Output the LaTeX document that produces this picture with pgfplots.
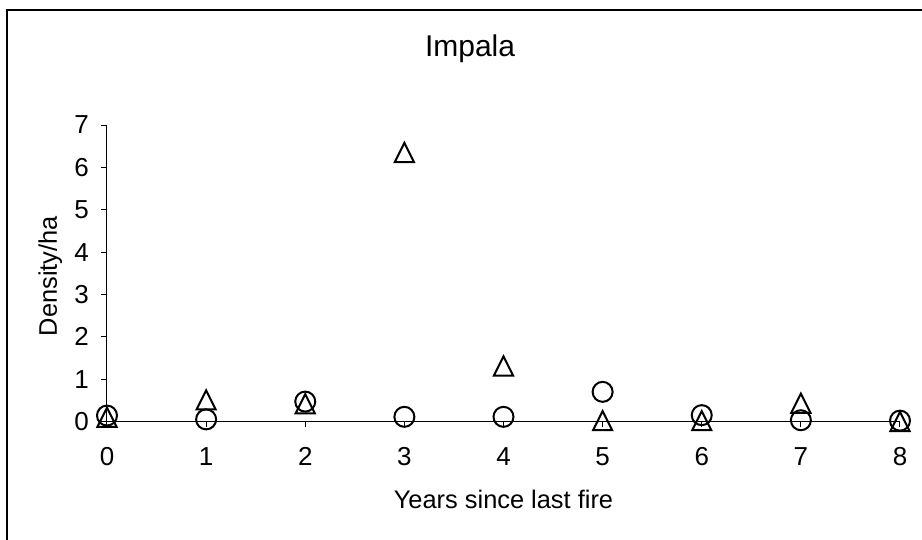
\documentclass[border=0pt]{standalone}
\usepackage{fontspec}
\setmainfont{Liberation Sans}
\usepackage{pgfplots}
\pgfplotsset{compat=1.18}

% open triangle as tall as it is wide
\pgfdeclareplotmark{tri}{%
  \pgfpathmoveto{\pgfqpoint{0pt}{\pgfplotmarksize}}%
  \pgfpathlineto{\pgfqpoint{-\pgfplotmarksize}{-\pgfplotmarksize}}%
  \pgfpathlineto{\pgfqpoint{\pgfplotmarksize}{-\pgfplotmarksize}}%
  \pgfpathclose
  \pgfusepathqstroke}

\newcommand{\tickfont}{\fontsize{13}{15}\selectfont}

\begin{document}
\begin{tikzpicture}[x=1pt,y=1pt]
\useasboundingbox (0,0) rectangle (461,270);
\draw[line width=0.9pt] (3.5,-20) -- (3.5,264.9) -- (480,264.9);
\begin{axis}[
    at={(53.5pt,59.25pt)}, anchor=south west,
    scale only axis, width=396.5pt, height=148.25pt,
    xmin=0, xmax=8, ymin=0, ymax=7,
    xtick={0,...,8}, ytick={0,...,7},
    axis lines=left, axis line style={-, line width=0.5pt},
    tick align=outside, major tick length=3pt,
    tick style={black, line width=0.5pt},
    clip=false,
    /pgf/number format/assume math mode=true,
    xticklabel={\tickfont\pgfmathprintnumber{\tick}},
    yticklabel={\tickfont\pgfmathprintnumber{\tick}},
    xticklabel style={anchor=north, yshift=-6.5pt},
    yticklabel style={anchor=east, xshift=-2.5pt},
    label style={font=\fontsize{12.7}{15}\selectfont},
    xlabel={Years since last fire},
    xlabel style={at={(axis description cs:0.5,-0.2951)}, anchor=base},
    ylabel={Density/ha},
    ylabel style={at={(axis description cs:-0.0631,0.49)}, anchor=base, rotate=0},
    title={Impala},
    title style={at={(axis description cs:0.4578,1.1922)}, anchor=base,
                 font=\fontsize{15}{18}\selectfont},
]
% circles
\addplot[only marks, mark=o, mark size=5pt, line width=1pt, black] coordinates {
    (0,0.14) (1,0.05) (2,0.47) (3,0.11) (4,0.11) (5,0.70) (6,0.15) (7,0.03) (8,0.02)
};
% triangles
\addplot[only marks, mark=tri, mark size=4.8pt, line width=1pt, black] coordinates {
    (0,0.10) (1,0.51) (2,0.42) (3,6.35) (4,1.31) (5,0.02) (6,0.02) (7,0.43) (8,0.0)
};
\end{axis}
\end{tikzpicture}
\end{document}
